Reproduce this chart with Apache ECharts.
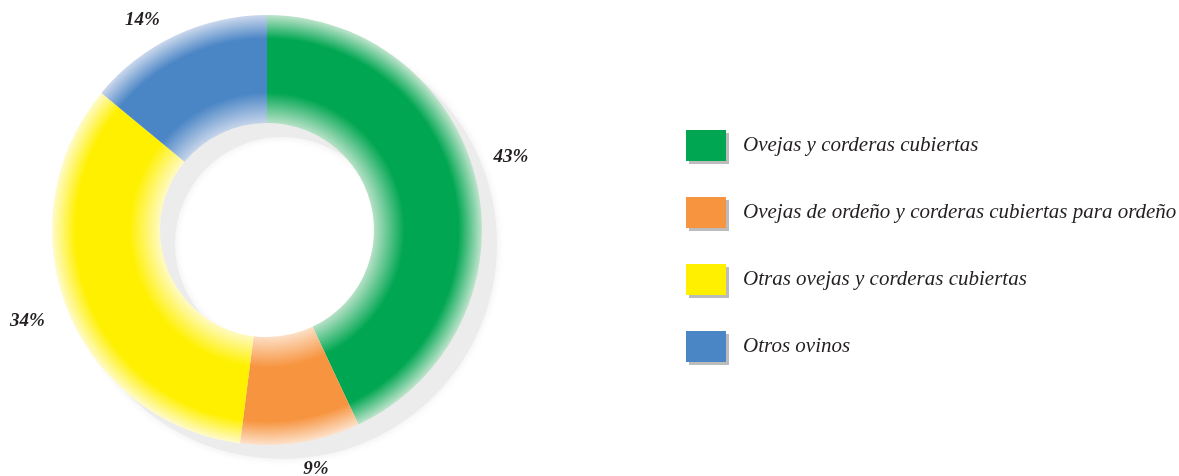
<!DOCTYPE html>
<html>
<head>
<meta charset="utf-8"/>
<title>Ovinos</title>
<script src="https://cdn.jsdelivr.net/npm/echarts@6/dist/echarts.min.js"></script>
<style>
  html, body { margin: 0; padding: 0; background: #fff; }
  #main { width: 1179px; height: 476px; }
</style>
</head>
<body>
<div id="main"></div>
<script>
// datos
var categorias = [
  'Ovejas y corderas cubiertas',
  'Ovejas de ordeño y corderas cubiertas para ordeño',
  'Otras ovejas y corderas cubiertas',
  'Otros ovinos'
];
var valores = [43, 9, 34, 14];
var colores = ['#00a651', '#f7943f', '#fff000', '#4a85c5'];
var claros = ['#bfe4cc', '#fde2cb', '#fffbcc', '#cbd8ec'];
var desplaz = [[2, -19], [10, -6], [-9, 0], [-19, 14]];

var cx = 267, cy = 230, rExt = 215, rInt = 107;

function degradado(i) {
  // gradiente radial global: claro en bordes, color pleno en el centro del anillo
  return {
    type: 'radial', x: cx, y: cy, r: rExt, global: true,
    colorStops: [
      { offset: 0.49, color: claros[i] },
      { offset: 0.64, color: colores[i] },
      { offset: 0.89, color: colores[i] },
      { offset: 1, color: claros[i] }
    ]
  };
}

var datos = categorias.map(function (n, i) {
  return { name: n, value: valores[i], itemStyle: { color: degradado(i) } };
});
var etiquetas = categorias.map(function (n, i) {
  return { name: n, value: valores[i], label: { offset: desplaz[i] } };
});

var myChart = echarts.init(document.getElementById('main'));
var option = {
  animation: false,
  legend: {
    orient: 'vertical',
    left: 681,
    top: 125,
    itemWidth: 40,
    itemHeight: 31,
    itemGap: 36,
    icon: 'rect',
    selectedMode: false,
    itemStyle: {
      shadowColor: '#bcbcbc', shadowBlur: 0, shadowOffsetX: 3, shadowOffsetY: 3
    },
    textStyle: {
      fontFamily: 'Liberation Serif', fontStyle: 'italic', fontSize: 21,
      color: '#231f20', padding: [0, 0, 0, 12]
    },
    data: categorias.map(function (n, i) {
      return { name: n, itemStyle: { color: colores[i] } };
    })
  },
  series: [
    {
      // sombra del anillo
      type: 'pie', silent: true, center: [cx + 15, cy + 14], radius: [rInt, rExt],
      label: { show: false }, labelLine: { show: false },
      itemStyle: { color: '#ececec', shadowColor: 'rgba(0,0,0,0.08)', shadowBlur: 8 },
      data: [{ name: 'sombra', value: 1 }]
    },
    {
      type: 'pie', silent: true, center: [cx, cy], radius: [rInt, rExt],
      startAngle: 90, clockwise: true,
      label: { show: false }, labelLine: { show: false },
      data: datos
    },
    {
      // anillo invisible para colocar los porcentajes
      type: 'pie', silent: true, center: [cx, cy], radius: [rExt + 15, rExt + 45],
      startAngle: 90, clockwise: true,
      itemStyle: { color: 'rgba(0,0,0,0)' },
      labelLine: { show: false },
      label: {
        show: true, position: 'inside', formatter: '{c}%',
        fontFamily: 'Liberation Serif', fontStyle: 'italic', fontWeight: 'bold',
        fontSize: 19, color: '#231f20'
      },
      data: etiquetas
    }
  ]
};
myChart.setOption(option);
</script>
</body>
</html>
